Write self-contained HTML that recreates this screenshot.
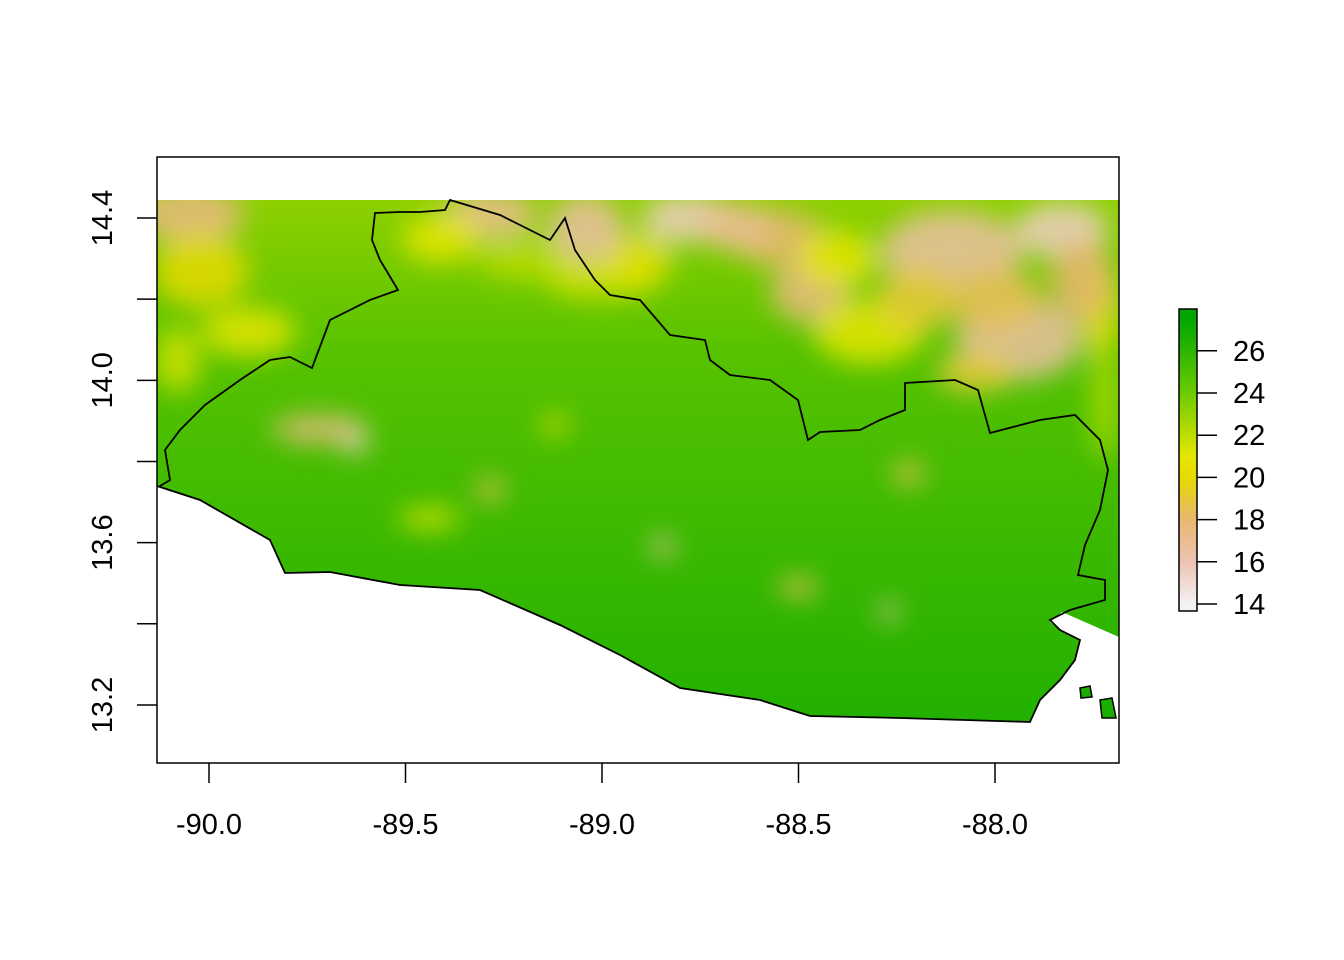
<!DOCTYPE html>
<html><head><meta charset="utf-8"><style>
html,body{margin:0;padding:0;background:#fff}
svg{display:block;font-family:"Liberation Sans",Arial,sans-serif}
</style></head><body>
<svg id="chart" width="1344" height="960" viewBox="0 0 1344 960">
<defs>
<clipPath id="rclip"><rect x="157" y="200" width="962" height="522"/></clipPath>
<filter id="blur" x="-50%" y="-50%" width="200%" height="200%"><feGaussianBlur stdDeviation="13"/></filter>
<linearGradient id="baseg" x1="0" y1="0" x2="0" y2="1">
<stop offset="0" stop-color="#8ED000"/><stop offset="0.3" stop-color="#55C200"/><stop offset="1" stop-color="#22B000"/>
</linearGradient>
<linearGradient id="cbg" x1="0" y1="1" x2="0" y2="0">
<stop offset="0.023" stop-color="#F2F2F2"/><stop offset="0.163" stop-color="#EDC3B3"/><stop offset="0.303" stop-color="#E9B770"/><stop offset="0.442" stop-color="#E6DA00"/><stop offset="0.512" stop-color="#E6E600"/><stop offset="0.722" stop-color="#6CCB00"/><stop offset="0.967" stop-color="#00A600"/>
</linearGradient>
</defs>
<g clip-path="url(#rclip)">
<rect x="157" y="200" width="962" height="522" fill="url(#baseg)"/>
<g id="blobs" filter="url(#blur)"></g>
</g>
<polygon fill="#fff" points="157,486 200,500 270,540 285,573 330,572 400,585 480,590 560,625 620,655 680,688 760,700 810,716 900,718 1030,722 1040,700 1060,680 1075,660 1080,640 1060,630 1050,622 1062,612 1119,637 1119,725 157,725"/>
<polygon fill="#1AAE00" stroke="#000" stroke-width="1.5" points="1100,700 1112,698 1116,718 1102,718"/>
<polygon fill="#1AAE00" stroke="#000" stroke-width="1.5" points="1080,688 1090,686 1092,697 1081,698"/>
<path fill="none" stroke="#000" stroke-width="1.8" d="M157,486 L200,500 L270,540 L285,573 L330,572 L400,585 L480,590 L560,625 L620,655 L680,688 L760,700 L810,716 L900,718 L1030,722 L1040,700 L1060,680 L1075,660 L1080,640 L1060,630 L1050,620 L1070,610 L1105,600 L1105,580 L1078,575 L1085,545 L1100,510 L1108,470 L1100,440 L1075,415 L1040,420 L990,433 L978,390 L955,380 L905,383 L905,410 L880,420 L860,430 L820,432 L808,440 L798,400 L770,380 L730,375 L710,360 L705,340 L670,335 L640,300 L610,295 L595,280 L575,250 L565,218 L550,240 L520,225 L500,215 L450,200 L445,210 L420,212 L400,212 L375,213 L372,240 L380,260 L398,290 L370,300 L330,320 L312,368 L290,357 L270,360 L240,380 L205,405 L180,430 L165,450 L170,480 L160,486"/>
<rect x="157" y="157" width="962" height="606" fill="none" stroke="#000" stroke-width="1.5"/>
<g id="axes"></g>
<rect x="1179" y="309" width="18" height="302" fill="url(#cbg)" stroke="#000" stroke-width="1.5"/>
</svg>
<script>
const blobLon=[-90.05,-90.02,-89.285,-89.04,-88.78,-88.55,-88.47,-88.11,-87.83,-87.94,-88.32,-89.41,-89.72,-89.63,-89.285,-88.845,-88.50,-88.27,-88.22,-89.12,-89.44,-87.73,-89.0,-89.9,-88.66,-88.2,-88.0,-87.78,-88.4,-89.2,-90.08,-88.9,-88.05,-87.72];
const blobLat=[14.41,14.27,14.41,14.36,14.40,14.35,14.22,14.32,14.37,14.10,14.12,14.35,13.88,13.85,13.73,13.59,13.49,13.43,13.77,13.89,13.66,14.17,14.25,14.12,14.38,14.2,14.2,14.25,14.3,14.3,14.05,14.3,14.02,13.95];
const blobVal=[17.5,20,17,16.5,15.5,18,17.5,16.5,15.5,16.5,21,21,17.5,15.5,18.5,16.5,18.5,16.5,18.5,20,21,20,21.5,21,17,19,18.5,18,21,22,21.5,20.5,19,22];
const blobRx=[0.14,0.12,0.12,0.1,0.12,0.12,0.1,0.18,0.12,0.16,0.14,0.1,0.12,0.035,0.035,0.03,0.05,0.025,0.04,0.035,0.08,0.05,0.15,0.12,0.1,0.1,0.12,0.08,0.1,0.12,0.06,0.08,0.1,0.03];
const blobRy=[0.07,0.09,0.06,0.1,0.06,0.07,0.08,0.1,0.07,0.1,0.08,0.06,0.035,0.03,0.03,0.025,0.025,0.025,0.03,0.025,0.025,0.12,0.05,0.06,0.06,0.08,0.08,0.1,0.07,0.05,0.08,0.06,0.05,0.15];
const xTicks=[-90.0,-89.5,-89.0,-88.5,-88.0];
const xTickLabels=["-90.0","-89.5","-89.0","-88.5","-88.0"];
const yTicks=[14.4,14.2,14.0,13.8,13.6,13.4,13.2];
const yTickLabels=["14.4","","14.0","","13.6","","13.2"];
const cbTicks=[14,16,18,20,22,24,26];
const cbLabels=["14","16","18","20","22","24","26"];
const NS="http://www.w3.org/2000/svg";
const X=lon=>209+(lon+90)*393;
const Y=lat=>218-(lat-14.4)*405.8;
const CB=v=>604-(v-14)*21.1;
const stops=[[14,[242,242,242]],[16,[237,195,179]],[18,[233,183,112]],[20,[230,218,0]],[21,[230,230,0]],[24,[108,203,0]],[27.5,[0,166,0]]];
function col(v){for(let i=1;i<stops.length;i++){if(v<=stops[i][0]){const a=stops[i-1],b=stops[i],t=(v-a[0])/(b[0]-a[0]);return "rgb("+a[1].map((c,k)=>Math.round(c+(b[1][k]-c)*t)).join(",")+")";}}return "rgb(0,166,0)";}
const bg=document.getElementById('blobs');
blobVal.forEach((v,i)=>{const e=document.createElementNS(NS,'ellipse');


e.setAttribute('cx',X(blobLon[i]));e.setAttribute('cy',Y(blobLat[i]));
e.setAttribute('rx',blobRx[i]*393);e.setAttribute('ry',blobRy[i]*405.8);
e.setAttribute('fill',col(v));e.setAttribute('fill-opacity','0.85');bg.appendChild(e);});
const ax=document.getElementById('axes');
function ln(x1,y1,x2,y2,name){const l=document.createElementNS(NS,'line');


l.setAttribute('x1',x1);l.setAttribute('y1',y1);l.setAttribute('x2',x2);l.setAttribute('y2',y2);l.setAttribute('stroke','#000');l.setAttribute('stroke-width','1.5');ax.appendChild(l);}
function tx(x,y,s,name,rot,anchor){const t=document.createElementNS(NS,'text');


t.setAttribute('x',x);t.setAttribute('y',y);t.setAttribute('font-size','29');t.setAttribute('text-anchor',anchor||'middle');
if(rot)t.setAttribute('transform','rotate(-90 '+x+' '+y+')');t.textContent=s;ax.appendChild(t);}
xTicks.forEach((v,i)=>{ln(X(v),763,X(v),783,'x-tick');tx(X(v),834,xTickLabels[i],'x-tick-label');});
yTicks.forEach((v,i)=>{ln(157,Y(v),137,Y(v),'y-tick');if(yTickLabels[i])tx(112,Y(v),yTickLabels[i],'y-tick-label',true);});
cbTicks.forEach((v,i)=>{ln(1197,CB(v),1217,CB(v),'colorbar-tick');tx(1233,CB(v)+10,cbLabels[i],'colorbar-label',false,'start');});
</script>
</body></html>
